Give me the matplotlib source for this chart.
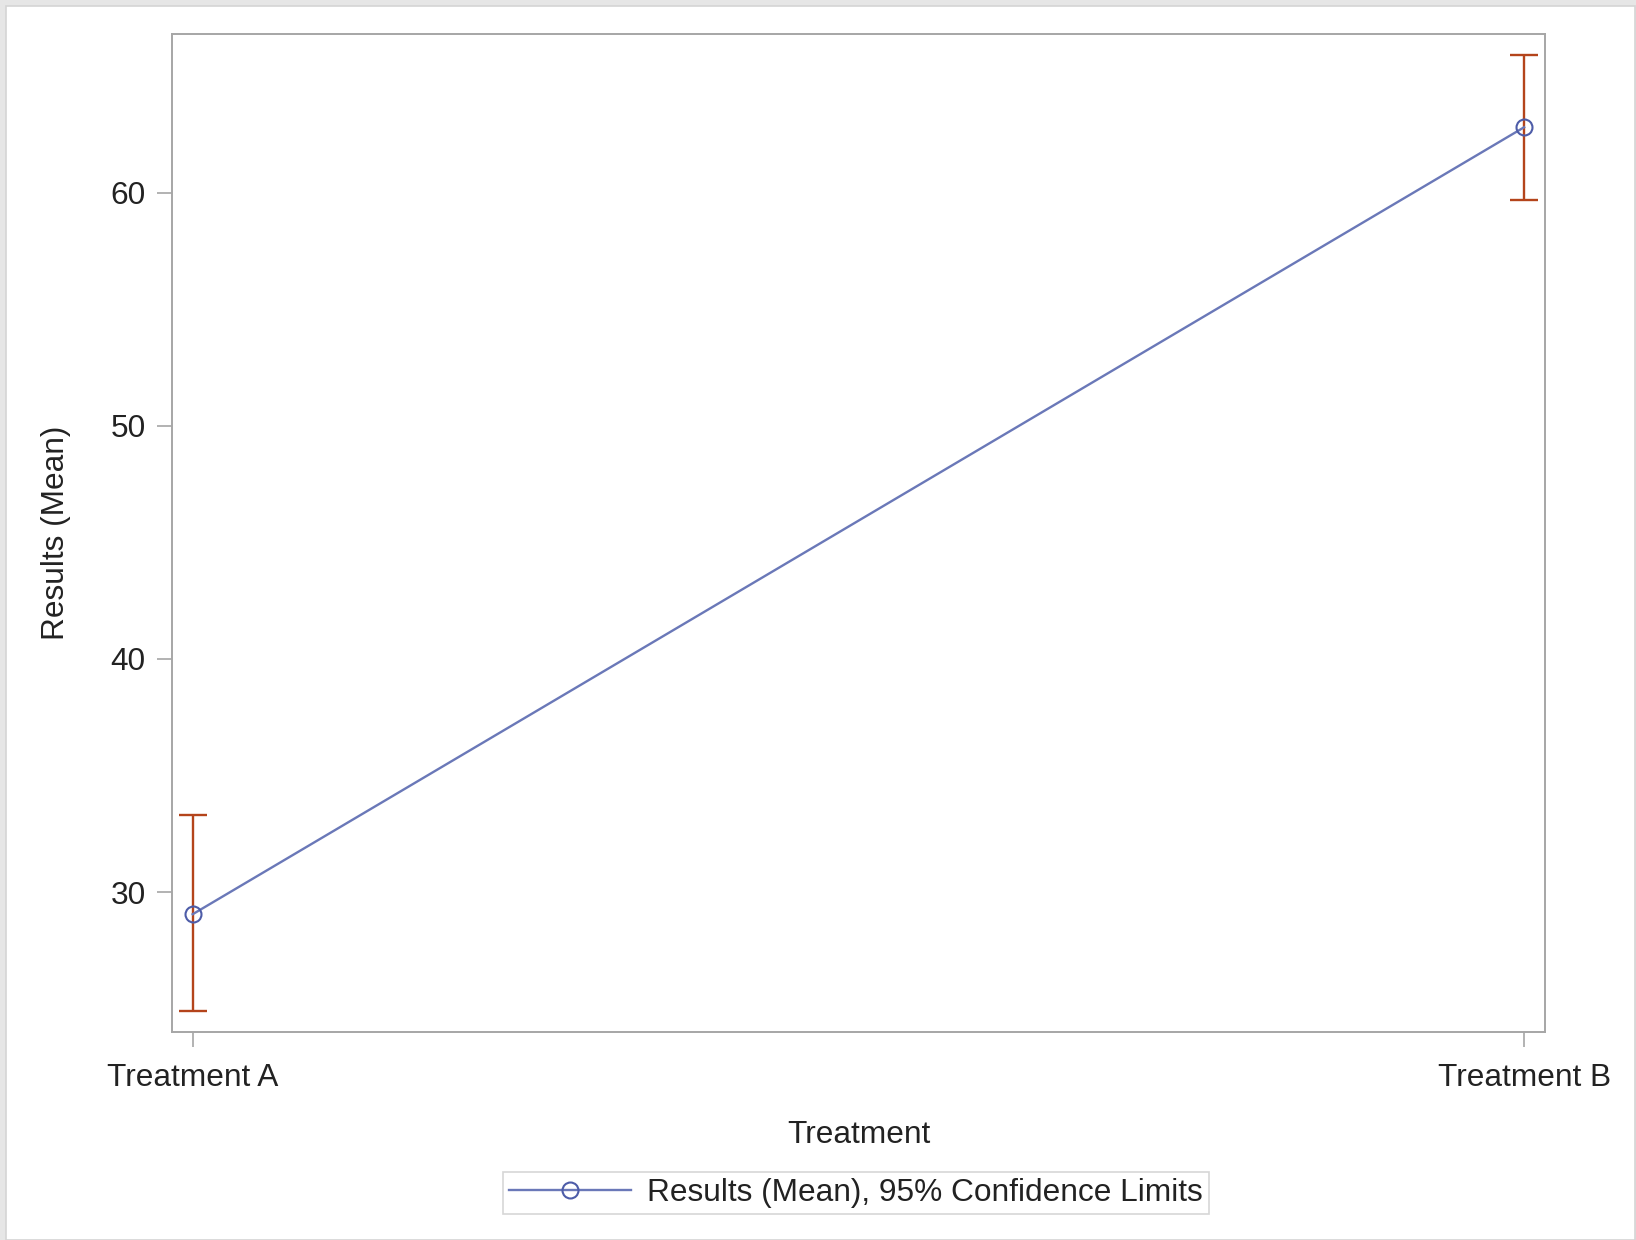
import numpy as np
import matplotlib
matplotlib.use("Agg")
import matplotlib.pyplot as plt
from matplotlib.patches import Rectangle

# Data
treatments = ["Treatment A", "Treatment B"]
means = [29.05, 62.8]
lower_cl = [24.9, 59.7]
upper_cl = [33.3, 65.9]

plt.rcParams['font.family'] = ['Liberation Sans', 'DejaVu Sans']
plt.rcParams['font.size'] = 22.8

line_color = '#6a78b8'
marker_color = '#4d5ca8'
err_color = '#b4441b'
axis_gray = '#a6a6a6'

fig = plt.figure(figsize=(16.36, 12.40), dpi=100)
fig.patch.set_facecolor('#e6e6e6')
fig.patches.append(Rectangle((6 / 1636, 0), 1629 / 1636, 1 - 6 / 1240,
                             transform=fig.transFigure, facecolor='white',
                             edgecolor='#d4d4d4', linewidth=1.2, zorder=-10))

ax = fig.add_axes([172 / 1636, 1 - 1032 / 1240, 1373 / 1636, 998 / 1240])

x = np.arange(len(treatments))
means_arr = np.array(means)
yerr = [means_arr - np.array(lower_cl), np.array(upper_cl) - means_arr]

ax.errorbar(x, means, yerr=yerr, fmt='none', ecolor=err_color,
            elinewidth=1.7, capsize=10, capthick=1.7, zorder=2)
h, = ax.plot(x, means, color=line_color, linewidth=1.7, marker='o',
             markersize=11.5, markerfacecolor='none', markeredgecolor=marker_color,
             markeredgewidth=1.5, zorder=3,
             label='Results (Mean), 95% Confidence Limits')

ax.set_xlim(-0.0155, 1.0157)
ax.set_ylim(24.0, 66.8)
ax.set_xticks(x)
ax.set_xticklabels(treatments)
ax.set_yticks([30, 40, 50, 60])

for s in ax.spines.values():
    s.set_color(axis_gray)
    s.set_linewidth(1.4)
ax.tick_params(axis='both', length=11, width=1.2, color=axis_gray,
               labelcolor='#222222')
ax.tick_params(axis='y', pad=8)
ax.tick_params(axis='x', pad=11)

ax.set_xlabel('Treatment', labelpad=20, color='#222222')
ax.set_ylabel('Results (Mean)', labelpad=28, color='#222222')

leg = fig.legend(handles=[h], loc='center',
                 bbox_to_anchor=(856 / 1636, 1 - 1193 / 1240),
                 frameon=True, fancybox=False, handlelength=3.85,
                 handletextpad=0.5, borderpad=0.2)
leg.get_frame().set_edgecolor('#cccccc')
leg.get_frame().set_linewidth(1.2)
for t in leg.get_texts():
    t.set_color('#222222')

fig.savefig('out.png', dpi=100, facecolor=fig.get_facecolor())
